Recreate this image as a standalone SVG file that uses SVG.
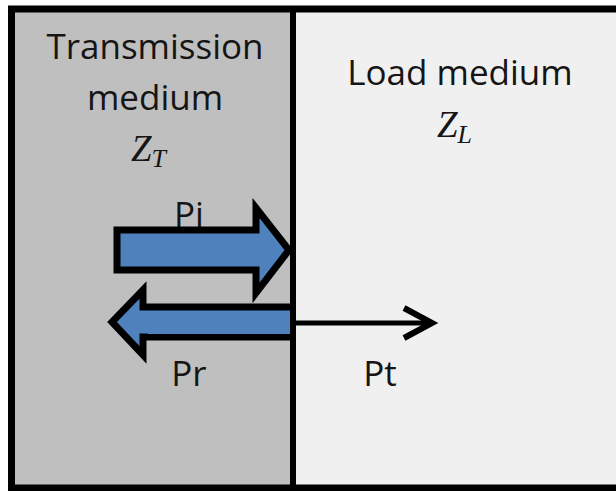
<svg xmlns="http://www.w3.org/2000/svg" width="616" height="491" viewBox="0 0 616 491">
<defs>
<style>
.lbl{font-family:"Open Sans","Liberation Sans",sans-serif;font-size:35px;fill:#151515;text-anchor:middle}
.math{font-family:"Liberation Serif","DejaVu Serif",serif;font-style:italic;fill:#151515}
.blk{fill:#4f81bd;stroke:#000;stroke-width:7;stroke-linejoin:miter}
</style>
</defs>
<g id="transmission">
<rect x="11" y="9" width="282" height="479" fill="#bfbfbf"/>
<text class="lbl" x="155" y="59">Transmission</text>
<text class="lbl" x="155" y="110">medium</text>
<text class="math" x="131" y="161" font-size="37">Z<tspan font-size="26" dy="6">T</tspan></text>
</g>
<g id="load">
<rect x="293" y="9" width="330" height="479" fill="#f0f0f0"/>
<text class="lbl" x="460" y="85">Load medium</text>
<text class="math" x="437" y="137" font-size="37">Z<tspan font-size="26" dy="6">L</tspan></text>
</g>
<g id="frame" fill="none" stroke="#000">
<rect x="11.5" y="9" width="620" height="479" stroke-width="7"/>
<line x1="293" y1="9" x2="293" y2="491" stroke-width="6"/>
</g>
<g id="labels">
<text class="lbl" x="189" y="227">Pi</text>
<text class="lbl" x="189" y="386">Pr</text>
<text class="lbl" x="380" y="386">Pt</text>
</g>
<g id="connectors">
<path class="blk" d="M117,230 L256,230 L256,208 L289,250 L256,293 L256,270 L117,270 Z"/>
<path class="blk" d="M290,307 L143,307 L143,290 L112,322 L143,355 L143,337 L290,337"/>
<rect x="148" y="311" width="142" height="23" fill="#4f81bd"/>
<line x1="296" y1="323" x2="431" y2="323" stroke="#000" stroke-width="5"/>
<path d="M404,308 L432,323 L404,338" fill="none" stroke="#000" stroke-width="6"/>
</g>
</svg>
